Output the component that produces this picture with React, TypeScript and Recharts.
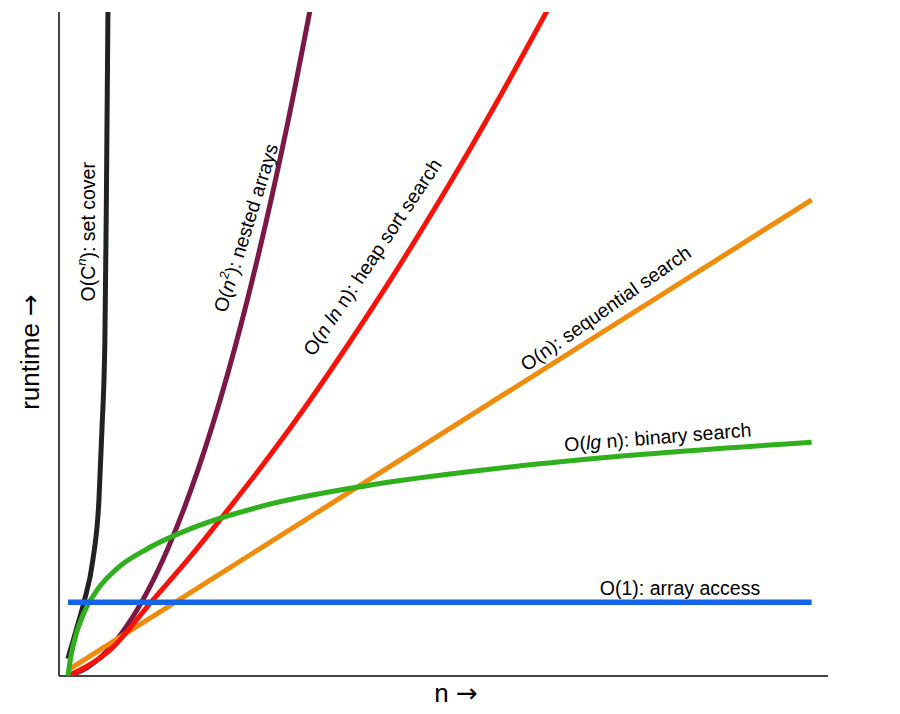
import { LineChart, Line, XAxis, YAxis, ReferenceDot, ReferenceLine } from 'recharts';

// n runs 0..100 along the x axis, runtime 0..100 up the y axis (arbitrary units)
const N_MIN = -1.2;
const N_MAX = 102.2;

const constN = [0, 100];
const constT = [11.1, 11.1];

const logN = [0, 0.4, 1.08, 2.15, 4.03, 6.72, 10.75, 17.47, 26.88, 40.32, 56.45, 75.27, 100];
const logT = [0, 2.97, 6.19, 9.49, 13.1, 16.3, 19.2, 22.6, 25.8, 28.7, 31.1, 33.2, 35.2];

const linN = [0, 100];
const linT = [0.9, 71.7];

const nlognN = [0, 5.65, 11.16, 16.4, 21.77, 27.15, 32.53, 37.9, 43.28, 48.66, 54.03, 59.41, 64.78];
const nlognT = [0, 3.9, 11.1, 17.9, 25.4, 33.2, 41.5, 50.3, 59.5, 69.2, 79.3, 89.9, 100.9];

const quadN = [0, 2.69, 5.38, 8.06, 10.75, 13.44, 17.47, 21.5, 25.54, 29.57, 33.6];
const quadT = [0, 1.34, 3.93, 7.76, 12.85, 19.2, 31.0, 45.6, 63.1, 83.4, 106.4];

const expN = [0, 1.08, 2.15, 3.36, 4.17, 4.57, 4.97, 5.17, 5.38];
const expT = [2.6, 6.8, 11.1, 17.5, 26.5, 37.0, 50.6, 71.7, 100];

const toPoints = (ns: number[], ts: number[]) => ns.map((n, i) => ({ n, t: ts[i] }));

// drawn in this order, last one on top
const series = [
  { key: 'exp', data: toPoints(expN, expT), color: '#222222', width: 5 },
  { key: 'quad', data: toPoints(quadN, quadT), color: '#7b1846', width: 5 },
  { key: 'lin', data: toPoints(linN, linT), color: '#f08c0c', width: 5 },
  { key: 'nlogn', data: toPoints(nlognN, nlognT), color: '#fa1208', width: 5 },
  { key: 'log', data: toPoints(logN, logT), color: '#2fb01c', width: 5 },
  { key: 'const', data: toPoints(constN, constT), color: '#1464e8', width: 5.5 },
];

type Part = { s: string; it?: boolean; sup?: boolean };

const labels: { parts: Part[]; n: number; t: number; angle: number }[] = [
  { parts: [{ s: 'O(C' }, { s: 'n', it: true, sup: true }, { s: '): set cover' }], n: 2.69, t: 66.9, angle: -90 },
  { parts: [{ s: 'O(' }, { s: 'n', it: true }, { s: '2', sup: true }, { s: '): nested arrays' }], n: 23.9, t: 67.5, angle: -72.7 },
  { parts: [{ s: 'O(' }, { s: 'n ln', it: true }, { s: ' n): heap sort search' }], n: 40.9, t: 63.1, angle: -56.2 },
  { parts: [{ s: 'O(n): sequential search' }], n: 72.3, t: 55.4, angle: -35 },
  { parts: [{ s: 'O(' }, { s: 'lg', it: true }, { s: ' n): binary search' }], n: 79.3, t: 36.0, angle: -4.6 },
  { parts: [{ s: 'O(1): array access' }], n: 82.3, t: 13.3, angle: 0 },
];

const FONT = '"Liberation Sans", Arial, Helvetica, sans-serif';
const ARROW_FONT = '"DejaVu Sans", sans-serif';

function CurveLabel({ cx, cy, angle, parts }: { cx: number; cy: number; angle: number; parts: Part[] }) {
  let raised = false;
  return (
    <text
      x={cx}
      y={cy}
      transform={`rotate(${angle} ${cx} ${cy})`}
      textAnchor="middle"
      dominantBaseline="central"
      fontFamily={FONT}
      fontSize={19.5}
      fill="#000"
    >
      {parts.map((p, i) => {
        let dy = 0;
        if (p.sup && !raised) { dy = -7; raised = true; }
        else if (!p.sup && raised) { dy = 7; raised = false; }
        return (
          <tspan key={i} dy={dy || undefined} fontStyle={p.it ? 'italic' : undefined} fontSize={p.sup ? 13 : undefined}>
            {p.s}
          </tspan>
        );
      })}
    </text>
  );
}

const axisTitle = {
  position: 'absolute' as const,
  fontFamily: FONT,
  fontSize: 26,
  whiteSpace: 'nowrap' as const,
  color: '#000',
  lineHeight: 1,
};

export default function App() {
  return (
    <div style={{ position: 'relative', width: 884, height: 698 }}>
      <LineChart width={884} height={698} margin={{ top: 4, right: 64, bottom: 30, left: 51 }}>
        <XAxis type="number" dataKey="n" domain={[N_MIN, N_MAX]} allowDataOverflow hide />
        <YAxis type="number" dataKey="t" domain={[0, 100]} allowDataOverflow hide />
        <ReferenceLine x={N_MIN} stroke="#444" strokeWidth={2} />
        <ReferenceLine y={0} stroke="#444" strokeWidth={2} />
        {series.map((s) => (
          <Line
            key={s.key}
            data={s.data}
            dataKey="t"
            type="monotone"
            stroke={s.color}
            strokeWidth={s.width}
            dot={false}
            activeDot={false}
            isAnimationActive={false}
          />
        ))}
        {labels.map((l, i) => (
          <ReferenceDot
            key={i}
            x={l.n}
            y={l.t}
            r={0}
            shape={(props: any) => <CurveLabel cx={props.cx} cy={props.cy} angle={l.angle} parts={l.parts} />}
          />
        ))}
      </LineChart>
      <div style={{ ...axisTitle, left: 22, top: 344, transform: 'translate(-50%, -50%) rotate(-90deg)' }}>
        runtime <span style={{ fontFamily: ARROW_FONT }}>→</span>
      </div>
      <div style={{ ...axisTitle, left: 448, top: 685, transform: 'translate(-50%, -50%)' }}>
        n <span style={{ fontFamily: ARROW_FONT }}>→</span>
      </div>
    </div>
  );
}
